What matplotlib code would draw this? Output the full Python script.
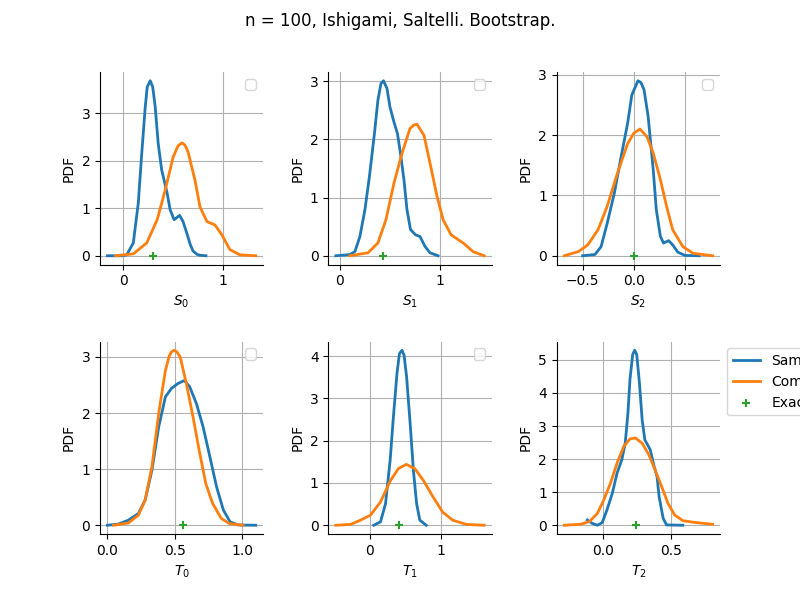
import numpy as np
import matplotlib
matplotlib.use("Agg")
import matplotlib.pyplot as plt

# index names and exact values
names = ["$S_0$", "$S_1$", "$S_2$", "$T_0$", "$T_1$", "$T_2$"]
exact = [0.30, 0.43, 0.0, 0.557, 0.415, 0.244]

# bootstrap sample PDF
sample_x = [
    [-0.16, 0.0, 0.034, 0.10, 0.15, 0.185, 0.22, 0.24, 0.27, 0.295, 0.32, 0.35, 0.385, 0.44, 0.47, 0.51, 0.565,
     0.60, 0.64, 0.67, 0.70, 0.74, 0.77, 0.83],
    [-0.04, 0.10, 0.15, 0.20, 0.25, 0.295, 0.345, 0.38, 0.41, 0.435, 0.47, 0.50, 0.535, 0.575, 0.605, 0.64, 0.67,
     0.705, 0.755, 0.80, 0.85, 0.90, 0.98],
    [-0.50, -0.38, -0.32, -0.26, -0.19, -0.13, -0.06, -0.02, 0.04, 0.07, 0.10, 0.14, 0.19, 0.22, 0.26, 0.29, 0.34,
     0.38, 0.43, 0.50, 0.64],
    [0.0, 0.08, 0.155, 0.23, 0.28, 0.33, 0.38, 0.43, 0.475, 0.525, 0.57, 0.61, 0.66, 0.71, 0.76, 0.81, 0.86, 0.91,
     0.97, 1.10],
    [0.055, 0.15, 0.22, 0.285, 0.33, 0.38, 0.415, 0.45, 0.48, 0.515, 0.565, 0.61, 0.655, 0.70, 0.79],
    [-0.115, -0.08, -0.04, -0.005, 0.03, 0.07, 0.105, 0.14, 0.165, 0.185, 0.20, 0.22, 0.235, 0.25, 0.27, 0.29,
     0.31, 0.35, 0.375, 0.40, 0.415, 0.445, 0.47, 0.59],
]
sample_y = [
    [0.0, 0.0, 0.02, 0.27, 1.11, 2.16, 3.14, 3.56, 3.69, 3.56, 3.14, 2.37, 1.81, 1.32, 0.97, 0.76, 0.85,
     0.72, 0.46, 0.25, 0.10, 0.03, 0.01, 0.0],
    [0.0, 0.02, 0.07, 0.33, 0.79, 1.36, 2.10, 2.68, 2.96, 3.01, 2.88, 2.56, 2.33, 2.10, 1.76, 1.30, 0.79,
     0.45, 0.36, 0.33, 0.16, 0.05, 0.0],
    [0.0, 0.02, 0.15, 0.54, 1.04, 1.59, 2.2, 2.66, 2.90, 2.87, 2.75, 2.31, 1.42, 0.76, 0.32, 0.21, 0.25,
     0.18, 0.06, 0.005, 0.0],
    [0.0, 0.02, 0.09, 0.21, 0.45, 0.98, 1.75, 2.29, 2.44, 2.53, 2.58, 2.47, 2.17, 1.75, 1.22, 0.68, 0.27, 0.06,
     0.005, 0.0],
    [0.0, 0.08, 0.51, 1.54, 2.56, 3.59, 4.06, 4.14, 4.02, 3.51, 2.40, 1.30, 0.51, 0.12, 0.0],
    [0.16, 0.06, 0.0, 0.08, 0.46, 0.97, 1.58, 1.98, 2.48, 3.39, 4.40, 5.16, 5.29, 5.16, 4.30, 3.19,
     2.58, 2.28, 1.83, 1.47, 0.87, 0.21, 0.01, 0.0],
]

# computed (asymptotic) PDF
comp_x = [
    [-0.08, 0.10, 0.235, 0.34, 0.42, 0.50, 0.55, 0.59, 0.62, 0.65, 0.72, 0.77, 0.84, 0.92, 0.99, 1.07, 1.17, 1.33],
    [0.10, 0.28, 0.38, 0.46, 0.54, 0.62, 0.70, 0.74, 0.77, 0.84, 0.90, 0.97, 1.03, 1.11, 1.23, 1.33, 1.44],
    [-0.68, -0.54, -0.45, -0.35, -0.26, -0.16, -0.06, 0.0, 0.06, 0.13, 0.19, 0.26, 0.32, 0.38, 0.48, 0.58, 0.77],
    [0.045, 0.155, 0.23, 0.28, 0.33, 0.38, 0.43, 0.46, 0.475, 0.495, 0.515, 0.54, 0.585, 0.635, 0.685, 0.73,
     0.78, 0.845, 0.905, 1.005],
    [-0.475, -0.27, -0.13, 0.01, 0.15, 0.29, 0.40, 0.51, 0.63, 0.75, 0.885, 1.02, 1.16, 1.35, 1.60],
    [-0.285, -0.165, -0.10, -0.04, 0.007, 0.056, 0.105, 0.154, 0.20, 0.24, 0.29, 0.34, 0.385, 0.434, 0.48, 0.53,
     0.59, 0.67, 0.74, 0.81],
]
comp_y = [
    [0.0, 0.04, 0.27, 0.76, 1.38, 2.08, 2.32, 2.38, 2.33, 2.19, 1.59, 1.03, 0.72, 0.65, 0.44, 0.13, 0.02, 0.0],
    [0.0, 0.05, 0.22, 0.62, 1.25, 1.76, 2.19, 2.25, 2.26, 2.07, 1.59, 1.02, 0.62, 0.36, 0.22, 0.07, 0.0],
    [0.0, 0.07, 0.18, 0.43, 0.82, 1.37, 1.86, 2.03, 2.10, 1.97, 1.70, 1.26, 0.82, 0.43, 0.15, 0.04, 0.0],
    [0.0, 0.04, 0.18, 0.45, 1.04, 1.99, 2.76, 3.03, 3.09, 3.12, 3.09, 3.0, 2.53, 1.93, 1.28, 0.74,
     0.39, 0.12, 0.03, 0.0],
    [0.0, 0.02, 0.12, 0.24, 0.55, 1.06, 1.34, 1.44, 1.34, 1.06, 0.67, 0.31, 0.12, 0.02, 0.0],
    [0.0, 0.03, 0.11, 0.36, 0.77, 1.27, 1.88, 2.38, 2.61, 2.64, 2.48, 2.13, 1.68, 1.17, 0.67, 0.31,
     0.14, 0.09, 0.06, 0.03],
]

fig, axes = plt.subplots(2, 3, figsize=(8, 6), dpi=100)
fig.suptitle("n = 100, Ishigami, Saltelli. Bootstrap.")
plt.subplots_adjust(wspace=0.4, hspace=0.4)

for i, ax in enumerate(axes.flat):
    l1, = ax.plot(sample_x[i], sample_y[i], color="C0", lw=2)
    l2, = ax.plot(comp_x[i], comp_y[i], color="C1", lw=2)
    l3 = ax.scatter([exact[i]], [0.0], marker="+", color="C2", zorder=3)
    ax.set_xlabel(names[i])
    ax.set_ylabel("PDF")
    ax.grid(True)
    ax.spines["top"].set_visible(False)
    ax.spines["right"].set_visible(False)
    if i < 5:
        ax.legend(handles=[], loc="upper right")
    else:
        # legend sits outside the last panel, clipped by the figure edge
        ax.legend([l1, l2, l3], ["Sample", "Computed", "Exact"],
                  loc="upper left", bbox_to_anchor=(1, 1))

plt.savefig("out.png")
